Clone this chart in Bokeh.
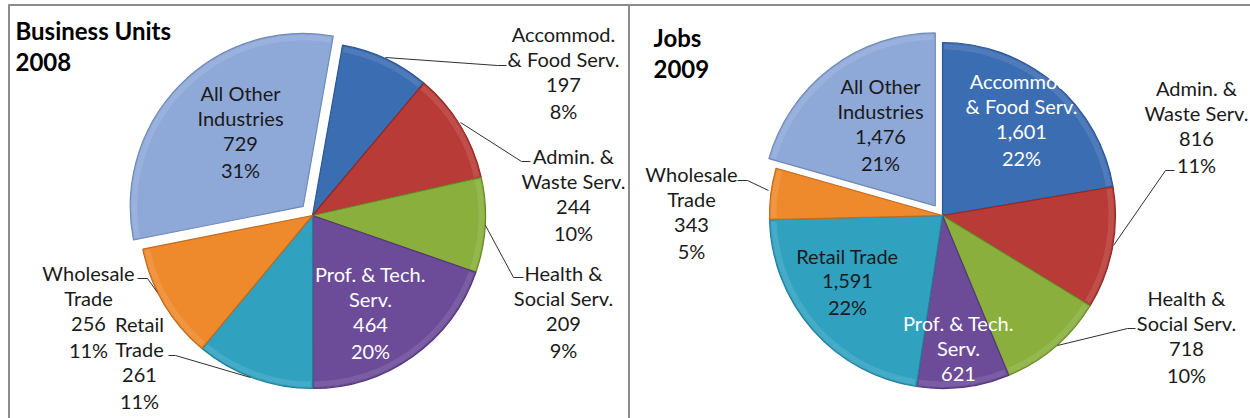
import math
from bokeh.plotting import figure
from bokeh.models import Range1d
from bokeh.core.properties import value
from bokeh.embed import file_html
from bokeh.resources import INLINE

# ---------------- data ----------------
categories = ["Accommod. & Food Serv.", "Admin. & Waste Serv.", "Health & Social Serv.",
              "Prof. & Tech. Serv.", "Retail Trade", "Wholesale Trade", "All Other Industries"]
units_2008 = [197, 244, 209, 464, 261, 256, 729]
jobs_2009 = [1601, 816, 718, 621, 1591, 343, 1476]
title_2008 = ["Business Units", "2008"]
title_2009 = ["Jobs", "2009"]

# ---------------- styles / layout ----------------
colors = ["#3B6DB3", "#B93B37", "#8AAF3D", "#6C4B99", "#30A2C0", "#EF8A2C", "#8EA9D8"]
edges = ["#2C5592", "#8E2A27", "#6A8A2A", "#523878", "#237E98", "#C46A1C", "#6F8AB8"]
FONT = "Lato"
W, H = 1250, 418
PAGE_H = 418

def Y(py):  # page y (downwards) -> data y (upwards)
    return PAGE_H - py

p = figure(width=W, height=H, output_backend="svg", toolbar_location=None,
           x_range=Range1d(0, W), y_range=Range1d(Y(H), Y(0)),
           min_border=0, outline_line_color=None)
p.axis.visible = False
p.grid.visible = False
p.background_fill_color = "white"

# panel borders
bc = "#8C8C8C"
p.line([8.5, 8.5], [Y(4), Y(420)], line_color=bc, line_width=2)
p.line([628.5, 628.5], [Y(4), Y(420)], line_color=bc, line_width=2)
p.line([8, 1250], [Y(4.5), Y(4.5)], line_color=bc, line_width=2)

def wrap(name, one_line_retail=False):
    table = {
        "Accommod. & Food Serv.": ["Accommod.", "& Food Serv."],
        "Admin. & Waste Serv.": ["Admin. &", "Waste Serv."],
        "Health & Social Serv.": ["Health &", "Social Serv."],
        "Prof. & Tech. Serv.": ["Prof. & Tech.", "Serv."],
        "Retail Trade": ["Retail Trade"] if one_line_retail else ["Retail", "Trade"],
        "Wholesale Trade": ["Wholesale", "Trade"],
        "All Other Industries": ["All Other", "Industries"],
    }
    return table[name]

def draw_pie(vals, cx, cy, r, start_deg, explode_idx, explode_d,
             label_pos, label_col, leaders, title, title_pos, one_line_retail):
    total = float(sum(vals))
    acc = start_deg
    for i, v in enumerate(vals):
        a0 = acc
        a1 = acc + v / total * 360.0
        acc = a1
        ox, oy = cx, cy
        if i == explode_idx:
            m = math.radians((a0 + a1) / 2)
            ox = cx + explode_d * math.sin(m)
            oy = cy - explode_d * math.cos(m)
        # clockwise-from-top -> anticlockwise-from-east
        p.wedge(x=[ox], y=[Y(oy)], radius=r,
                start_angle=math.radians(90 - a1), end_angle=math.radians(90 - a0),
                fill_color=colors[i], line_color=edges[i], line_width=1.2)
        # bevel highlight band
        p.annular_wedge(x=[ox], y=[Y(oy)], inner_radius=r - 7, outer_radius=r - 1.5,
                        start_angle=math.radians(90 - a1 + 0.6), end_angle=math.radians(90 - a0 - 0.6),
                        fill_color="white", fill_alpha=0.10, line_color=None)
    # leader lines
    for pts in leaders:
        p.line([q[0] for q in pts], [Y(q[1]) for q in pts], line_color="#303030", line_width=1)
    # labels
    spacing = 25.8
    for i, v in enumerate(vals):
        lines = wrap(categories[i], one_line_retail) + [f"{v:,}", f"{round(v / total * 100):d}%"]
        lx, ly = label_pos[i]
        for k, t in enumerate(lines):
            p.text(x=[lx], y=[Y(ly + k * spacing)], text=[t], text_align="center",
                   text_baseline="middle", text_font=value(FONT), text_font_size="20px",
                   text_color=label_col[i])
    tx, ty = title_pos
    for k, t in enumerate(title):
        p.text(x=[tx], y=[Y(ty + k * 31)], text=[t], text_align="left", text_baseline="middle",
               text_font=value(FONT), text_font_size="24px", text_font_style="bold",
               text_color="black")

K = "#1A1A1A"
draw_pie(units_2008, 312, 215, 173, 10, 6, 13,
         [(563, 33), (573, 155), (563, 272), (370, 273), (139, 323), (88, 272), (240, 92)],
         [K, K, K, "white", K, K, K],
         [[(385, 57), (497, 65), (506, 65)],
          [(460, 122), (521, 161), (530, 161)],
          [(485, 225), (513, 277), (523, 277)],
          [(137, 278), (147, 278), (157, 292)],
          [(168, 355), (175, 355), (250, 377)]],
         title_2008, (15, 30), False)

draw_pie(jobs_2009, 942, 215, 173, 0, 6, 12,
         [(1021, 80), (1196, 87), (1186, 297), (958, 322), (847, 255), (691, 173), (880, 85)],
         ["white", K, K, "white", K, K, K],
         [[(1113, 245), (1165, 170), (1174, 170)],
          [(1057, 345), (1127, 328), (1135, 328)],
          [(737, 180), (747, 180), (768, 190)]],
         title_2009, (653, 37), True)

open("out.html", "w").write(file_html(p, INLINE))
